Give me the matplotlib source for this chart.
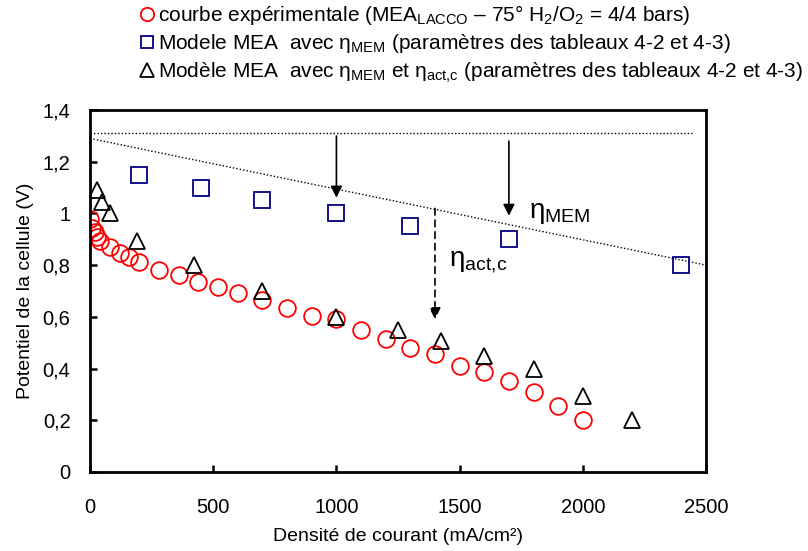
import numpy as np
import matplotlib.pyplot as plt

plt.rcParams['font.family'] = ['Liberation Sans', 'DejaVu Sans']
plt.rcParams['mathtext.fontset'] = 'custom'
plt.rcParams['mathtext.rm'] = 'Liberation Sans'

# courbe expérimentale
i_exp = [0, 10, 20, 30, 40, 80, 120, 160, 200, 280, 360, 440, 520, 600, 700,
         800, 900, 1000, 1100, 1200, 1300, 1400, 1500, 1600, 1700, 1800, 1900, 2000]
v_exp = [0.98, 0.945, 0.93, 0.91, 0.895, 0.872, 0.845, 0.83, 0.814, 0.783, 0.762,
         0.733, 0.717, 0.694, 0.665, 0.635, 0.605, 0.59, 0.55, 0.515, 0.48, 0.455,
         0.41, 0.385, 0.35, 0.31, 0.255, 0.2]

# modèle avec eta_MEM
i_mem = [200, 450, 700, 1000, 1300, 1700, 2400]
v_mem = [1.15, 1.10, 1.05, 1.00, 0.95, 0.90, 0.80]

# modèle avec eta_MEM et eta_act,c
i_act = [30, 50, 80, 190, 420, 700, 1000, 1250, 1425, 1600, 1800, 2000, 2200]
v_act = [1.09, 1.045, 1.0, 0.895, 0.80, 0.70, 0.60, 0.55, 0.505, 0.45, 0.40, 0.295, 0.2]

# lignes pointillées
e_rev = 1.31
line_i = [0, 2500]
line_v = [1.29, 0.80]

fig = plt.figure(figsize=(8.08, 5.51), dpi=100)
ax = fig.add_axes([0.1114, 0.1434, 0.7624, 0.657])

ax.plot([0, 2445], [e_rev, e_rev], ls=(0, (1, 1.5)), color='black', lw=1)
ax.plot(line_i, line_v, ls=(0, (1, 1.5)), color='black', lw=1)

h1, = ax.plot(i_exp, v_exp, 'o', ms=12, mfc='none', mec='#ff0000', mew=1.3)
h2, = ax.plot(i_mem, v_mem, 's', ms=11.5, mfc='none', mec='#000080', mew=1.3)
h3, = ax.plot(i_act, v_act, '^', ms=12, mfc='none', mec='black', mew=1.3)

arrow = dict(arrowstyle='-|>', color='black', lw=1.2, mutation_scale=17)
ax.annotate('', xy=(1000, 1.05), xytext=(1000, e_rev), arrowprops=arrow)
ax.annotate('', xy=(1700, 0.98), xytext=(1700, 1.29), arrowprops=arrow)
ax.annotate('', xy=(1400, 0.58), xytext=(1400, 1.03),
            arrowprops=dict(arrowstyle='-|>', color='black', lw=1.2,
                            ls=(0, (4, 3)), mutation_scale=17))

ax.text(1780, 1.0, r'η$_{\mathrm{MEM}}$', fontsize=20, va='center')
ax.text(1455, 0.81, r'η$_{\mathrm{act{,}c}}$', fontsize=20, va='center')

ax.set_xlim(0, 2500)
ax.set_ylim(0, 1.4)
ax.set_xticks(np.arange(0, 2501, 500))
ax.set_yticks(np.arange(0, 1.41, 0.2))
ax.set_yticklabels(['0', '0,2', '0,4', '0,6', '0,8', '1', '1,2', '1,4'])
ax.tick_params(direction='in', length=5, width=1.8, labelsize=14.5)
ax.tick_params(axis='x', pad=19)
ax.tick_params(axis='y', pad=14)
for s in ax.spines.values():
    s.set_linewidth(2)

ax.set_xlabel('Densité de courant (mA/cm²)', fontsize=14, labelpad=8)
ax.set_ylabel('Potentiel de la cellule (V)', fontsize=14, labelpad=6)

labels = [r'courbe expérimentale (MEA$_{\mathrm{LACCO}}$ – 75° H$_2$/O$_2$ = 4/4 bars)',
          r'Modele MEA  avec η$_{\mathrm{MEM}}$ (paramètres des tableaux 4-2 et 4-3)',
          r'Modèle MEA  avec η$_{\mathrm{MEM}}$ et η$_{\mathrm{act{,}c}}$ (paramètres des tableaux 4-2 et 4-3)']
fig.legend([h1, h2, h3], labels, loc='upper left', bbox_to_anchor=(0.165, 1.01),
           frameon=False, fontsize=15, handlelength=0.55, handletextpad=0.25,
           labelspacing=0.25, markerscale=0.8, borderaxespad=0)

fig.savefig('out.png', dpi=100)
